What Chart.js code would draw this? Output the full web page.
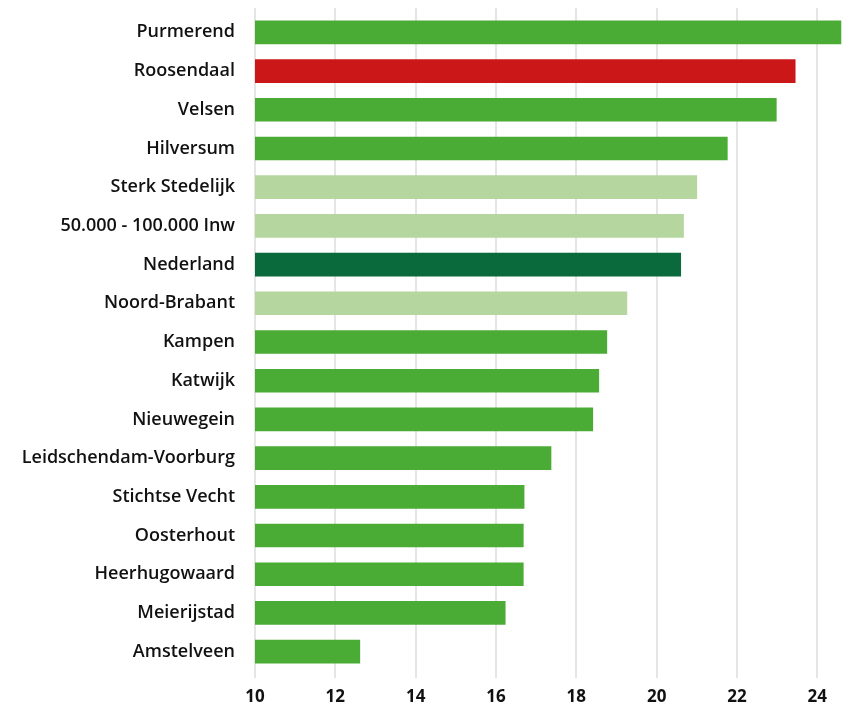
<!DOCTYPE html>
<html>
<head>
<meta charset="utf-8">
<script src="https://cdn.jsdelivr.net/npm/chart.js@4.4.0/dist/chart.umd.min.js"></script>
<style>
  html, body { margin: 0; padding: 0; background: #fff; }
  .wrap { position: relative; width: 843px; height: 709px; }
</style>
</head>
<body>
<div class="wrap"><canvas id="myChart"></canvas></div>
<script>
// data
const labels = [
  "Purmerend",
  "Roosendaal",
  "Velsen",
  "Hilversum",
  "Sterk Stedelijk",
  "50.000 - 100.000 Inw",
  "Nederland",
  "Noord-Brabant",
  "Kampen",
  "Katwijk",
  "Nieuwegein",
  "Leidschendam-Voorburg",
  "Stichtse Vecht",
  "Oosterhout",
  "Heerhugowaard",
  "Meierijstad",
  "Amstelveen",
];
const values = [
  24.6, 23.45, 22.98, 21.76, 21.0, 20.67, 20.6, 19.26, 18.76, 18.56, 18.41,
  17.37, 16.7, 16.68, 16.68, 16.23, 12.61,
];
// gemeente / focus / referentie / land
const kinds = [
  "gemeente", "focus", "gemeente", "gemeente", "referentie", "referentie",
  "land", "referentie", "gemeente", "gemeente", "gemeente", "gemeente",
  "gemeente", "gemeente", "gemeente", "gemeente", "gemeente",
];
const xTicks = [10, 12, 14, 16, 18, 20, 22, 24];
const xMin = 10;
const xMax = 24.6;

const kindColors = {
  gemeente: "#4aab35",
  focus: "#cc1719",
  referentie: "#b5d69f",
  land: "#0b6a3b",
};

// grid lines that run a little past the top of the plot
const gridPlugin = {
  id: "xgrid",
  beforeDatasetsDraw(chart) {
    const ctx = chart.ctx;
    const x = chart.scales.x;
    const area = chart.chartArea;
    ctx.save();
    ctx.strokeStyle = "#dcdcdc";
    ctx.lineWidth = 1.5;
    xTicks.forEach((t) => {
      const px = Math.round(x.getPixelForValue(t));
      ctx.beginPath();
      ctx.moveTo(px, area.top - 5);
      ctx.lineTo(px, area.bottom + 7);
      ctx.stroke();
    });
    ctx.restore();
  },
};

const config = {
  type: "bar",
  data: {
    labels: labels,
    datasets: [
      {
        data: values,
        backgroundColor: kinds.map((k) => kindColors[k]),
        borderWidth: 0,
        barThickness: 23,
      },
    ],
  },
  options: {
    indexAxis: "y",
    responsive: true,
    maintainAspectRatio: false,
    animation: false,
    layout: { padding: { top: 13, right: 0, left: 0, bottom: 0 } },
    scales: {
      x: {
        min: xMin,
        max: xMax,
        afterBuildTicks: (scale) => {
          scale.ticks = xTicks.map((v) => ({ value: v }));
        },
        afterFit: (scale) => {
          scale.height = 38;
        },
        grid: { display: false, drawTicks: false },
        border: { display: false },
        ticks: {
          padding: 16,
          color: "#111",
          font: { family: "'Open Sans'", size: 17, weight: "700" },
        },
      },
      y: {
        afterFit: (scale) => {
          scale.width = 255;
          scale.paddingTop = 0;
          scale.paddingBottom = 0;
        },
        grid: { display: false, drawTicks: false },
        border: { display: false },
        ticks: {
          padding: 20,
          color: "#111",
          font: { family: "'Open Sans'", size: 18, weight: "600" },
        },
      },
    },
    plugins: {
      legend: { display: false },
      tooltip: { enabled: false },
    },
  },
  plugins: [gridPlugin],
};
const myChart = new Chart(document.getElementById("myChart"), config);
</script>
</body>
</html>
